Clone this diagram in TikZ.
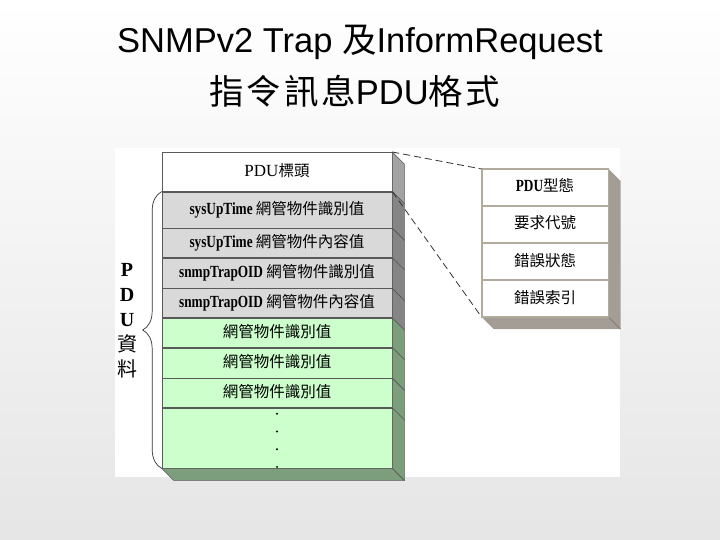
\documentclass[tikz,border=0pt]{standalone}
\usepackage{fontspec}
\setmainfont{Liberation Serif}
\newfontfamily\boxfont{Liberation Serif}[FakeStretch=0.78]
\newfontfamily\titlefont{Liberation Sans}
\newfontfamily\cjk{Noto Sans CJK TC}
\newfontfamily\cjktitle{Noto Sans CJK TC}[LetterSpace=8]
\usepackage{tikz}
\usetikzlibrary{positioning, calc, decorations.pathreplacing}
\definecolor{greyface}{HTML}{D9D9D9}
\definecolor{greenface}{HTML}{CCFFCC}
\definecolor{headside}{HTML}{A3A3A3}
\definecolor{greyside}{HTML}{858585}
\definecolor{greenside}{HTML}{7D9E7D}
\definecolor{tagside}{HTML}{A39D95}
\definecolor{tagline}{HTML}{B3AA9E}
\newcommand{\zh}[1]{{\cjk\fontsize{15.5}{17}\selectfont #1}}

\begin{document}
\begin{tikzpicture}[x=1pt, y=-1pt,
		every node/.style={font=\boxfont\fontsize{17}{19}\selectfont, inner sep=0pt},
		row/.style={draw=black!65, line width=0.6pt, minimum width=230pt, text height=12pt, text depth=3pt},
		headrow/.style={row, fill=white, minimum height=39pt},
		greyrow/.style={row, fill=greyface, minimum height=#1},
		greenrow/.style={row, fill=greenface, minimum height=#1},
		side/.style={draw=black!65, line width=0.6pt, fill=#1},
		tagrow/.style={draw=tagline, line width=1pt, fill=white, minimum width=126pt, minimum height=36pt, text height=12pt, text depth=3pt},
		link/.style={dash pattern=on 7pt off 4pt, line width=0.8pt, black!80},
		titlestyle/.style={font=\titlefont\fontsize{34.5}{40}\selectfont, anchor=base}
	]
	\useasboundingbox (0,0) rectangle (720,540);
	\shade[top color=white, bottom color=black!10] (0,0) rectangle (720,540);
	\fill[white] (115,148) rectangle (620,477);

	\node[titlestyle] (title1) at (360,53) {SNMPv2 Trap {\cjktitle 及}InformRequest};
	\node[titlestyle] (title2) at (355,105) {{\cjktitle 指令訊息}PDU{\cjktitle 格式}};

	% PDU stack
	\node[headrow, anchor=north] (hdr) at (277,152) {{\rmfamily\fontsize{17}{19}\selectfont PDU}\zh{標頭}};
	\node[greyrow=36pt, below=0pt of hdr] (r1) {\textbf{sysUpTime} \zh{網管物件識別值}};
	\node[greyrow=29pt, below=0pt of r1] (r2) {\textbf{sysUpTime} \zh{網管物件內容值}};
	\node[greyrow=30pt, below=0pt of r2] (r3) {\textbf{snmpTrapOID} \zh{網管物件識別值}};
	\node[greyrow=29pt, below=0pt of r3] (r4) {\textbf{snmpTrapOID} \zh{網管物件內容值}};
	\node[greenrow=29pt, below=0pt of r4] (g1) {\zh{網管物件識別值}};
	\node[greenrow=30pt, below=0pt of g1] (g2) {\zh{網管物件識別值}};
	\node[greenrow=29pt, below=0pt of g2] (g3) {\zh{網管物件識別值}};
	\node[greenrow=60pt, below=0pt of g3] (dots) {};

	\foreach \n/\c in {hdr/headside, r1/greyside, r2/greyside, r3/greyside, r4/greyside, g1/greenside, g2/greenside, g3/greenside, dots/greenside}
		\draw[side=\c] (\n.north east) -- ++(12,12) -- ($(\n.south east)+(12,12)$) -- (\n.south east) -- cycle;
	\draw[side=greenside] (dots.south west) -- ++(12,12) -- ($(dots.south east)+(12,12)$) -- (dots.south east) -- cycle;
	\foreach \k in {0,...,3}
		\fill ($(dots.north)+(0,6+17.7*\k)$) circle (1.1pt);

	\draw[black!80, line width=0.7pt, decorate, decoration={brace, amplitude=19pt}] (dots.south west) -- (r1.north west);
	\node[font=\rmfamily\fontsize{20}{25}\selectfont, align=center] (pdulbl) at (127,321) {\textbf{P}\\\textbf{D}\\\textbf{U}\\{\cjk 資}\\{\cjk 料}};

	% header fields
	\node[tagrow, anchor=north] (t1) at (545,169) {{\fontsize{17}{19}\selectfont\textbf{PDU}}\zh{型態}};
	\node[tagrow, below=0pt of t1] (t2) {\zh{要求代號}};
	\node[tagrow, below=0pt of t2] (t3) {\zh{錯誤狀態}};
	\node[tagrow, below=0pt of t3] (t4) {\zh{錯誤索引}};
	\fill[tagside] (t1.north east) -- ++(12,12) -- ($(t4.south east)+(12,12)$) -- ($(t4.south west)+(12,12)$) -- (t4.south west) -- (t4.south east) -- cycle;
	\draw[tagside!70!black, line width=0.4pt] (t4.south east) -- ++(12,12);
	\draw[tagline, line width=1pt] (t1.north west) rectangle (t4.south east);

	\draw[link] (hdr.north east) -- (t1.north west);
	\draw[link] (hdr.south east) -- (t4.south west);
\end{tikzpicture}
\end{document}
